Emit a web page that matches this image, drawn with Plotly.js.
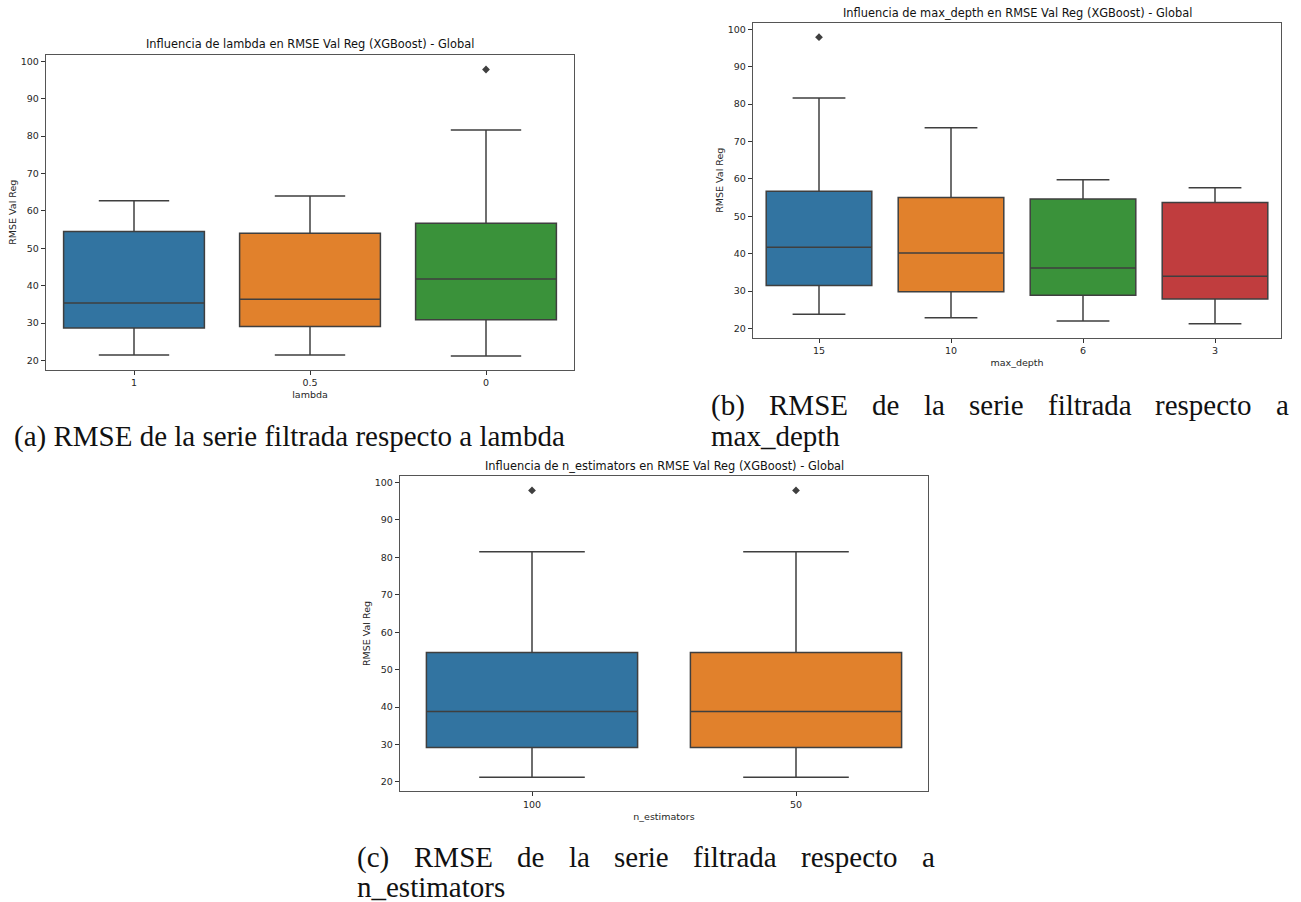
<!DOCTYPE html>
<html>
<head>
<meta charset="utf-8">
<script src="https://cdn.plot.ly/plotly-3.0.1.min.js"></script>
<style>html,body{margin:0;padding:0;background:#fff;}#chart{width:1301px;height:902px;}</style>
</head>
<body>
<div id="chart"></div>
<script>
// ---- data ----
const lambdaCats = ['1', '0.5', '0'];
const lambdaQ1 = [28.7, 29.1, 30.9];
const lambdaMedian = [35.4, 36.4, 41.8];
const lambdaQ3 = [54.5, 54.0, 56.7];
const lambdaLow = [21.5, 21.5, 21.2];
const lambdaHigh = [62.7, 64.0, 81.6];
const lambdaOutCats = ['0'];
const lambdaOutVals = [97.8];

const depthCats = ['15', '10', '6', '3'];
const depthQ1 = [31.5, 29.8, 28.9, 27.9];
const depthMedian = [41.7, 40.2, 36.2, 34.0];
const depthQ3 = [56.7, 55.0, 54.6, 53.7];
const depthLow = [23.8, 22.9, 22.0, 21.3];
const depthHigh = [81.6, 73.7, 59.8, 57.6];
const depthOutCats = ['15'];
const depthOutVals = [97.9];

const nestCats = ['100', '50'];
const nestQ1 = [29.2, 29.2];
const nestMedian = [38.8, 38.8];
const nestQ3 = [54.6, 54.6];
const nestLow = [21.2, 21.2];
const nestHigh = [81.5, 81.5];
const nestOutCats = ['100', '50'];
const nestOutVals = [97.9, 97.9];

const yTickVals = [20, 30, 40, 50, 60, 70, 80, 90, 100];

// ---- styling ----
const palette = ['#3274a1', '#e1812c', '#3a923a', '#c03d3e'];
const edge = '#3f3f3f';
const W = 1301, H = 902;
const sans = 'DejaVu Sans, sans-serif';
const serifName = 'Liberation Serif';
const serif = serifName + ', DejaVu Serif, serif';
const capSize = 29;

function boxes(cats, q1, med, q3, lo, hi, xa, ya) {
  return cats.map((c, i) => ({
    type: 'box', orientation: 'v',
    x: [c], q1: [q1[i]], median: [med[i]], q3: [q3[i]],
    lowerfence: [lo[i]], upperfence: [hi[i]],
    fillcolor: palette[i], line: {color: edge, width: 1.5},
    width: 0.8, whiskerwidth: 0.5, boxpoints: false,
    xaxis: xa, yaxis: ya, showlegend: false, name: c
  }));
}
function outliers(cats, vals, xa, ya) {
  return {
    type: 'scatter', mode: 'markers', x: cats, y: vals,
    marker: {symbol: 'diamond', size: 6, color: edge},
    xaxis: xa, yaxis: ya, showlegend: false
  };
}

const data = [
  ...boxes(lambdaCats, lambdaQ1, lambdaMedian, lambdaQ3, lambdaLow, lambdaHigh, 'x', 'y'),
  outliers(lambdaOutCats, lambdaOutVals, 'x', 'y'),
  ...boxes(depthCats, depthQ1, depthMedian, depthQ3, depthLow, depthHigh, 'x2', 'y2'),
  outliers(depthOutCats, depthOutVals, 'x2', 'y2'),
  ...boxes(nestCats, nestQ1, nestMedian, nestQ3, nestLow, nestHigh, 'x3', 'y3'),
  outliers(nestOutCats, nestOutVals, 'x3', 'y3')
];

function px(x) { return x / W; }
function py(y) { return 1 - y / H; }

function xax(cats, l, r, title, anchor) {
  return {
    domain: [px(l), px(r)], anchor: anchor, type: 'category',
    categoryorder: 'array', categoryarray: cats,
    range: [-0.5, cats.length - 0.5],
    showline: true, mirror: true, linecolor: '#555', linewidth: 1.2,
    ticks: 'outside', ticklen: 4, tickcolor: '#333', tickwidth: 1,
    tickfont: {family: sans, size: 9.5, color: '#262626'},
    showgrid: false, zeroline: false, fixedrange: true,
    title: {text: title, font: {family: sans, size: 9.5, color: '#262626'}, standoff: 4}
  };
}
function yax(t, b, anchor) {
  return {
    domain: [py(b), py(t)], anchor: anchor,
    range: [17.54, 101.76], tickvals: yTickVals,
    showline: true, mirror: true, linecolor: '#555', linewidth: 1.2,
    ticks: 'outside', ticklen: 4, tickcolor: '#333', tickwidth: 1,
    tickfont: {family: sans, size: 9.5, color: '#262626'},
    showgrid: false, zeroline: false, fixedrange: true,
    title: {text: 'RMSE Val Reg', font: {family: sans, size: 9.5, color: '#262626'}, standoff: 2}
  };
}

function ann(text, x, y, size, family, xanchor) {
  return {text: text, x: px(x), y: py(y), xref: 'paper', yref: 'paper',
    showarrow: false, xanchor: xanchor || 'center', yanchor: 'middle',
    font: {family: family, size: size, color: '#111'}};
}

// justified caption line: words spread evenly between x0 and x1
const measureCtx = document.createElement('canvas').getContext('2d');
measureCtx.font = capSize + 'px "' + serifName + '"';
function justified(words, x0, x1, y) {
  const widths = words.map(w => measureCtx.measureText(w).width);
  const total = widths.reduce((a, b) => a + b, 0);
  const gap = (x1 - x0 - total) / (words.length - 1);
  let x = x0;
  return words.map((w, i) => {
    const a = ann(w, x, y, capSize, serif, 'left');
    x += widths[i] + gap;
    return a;
  });
}

const captionWords = ['RMSE', 'de', 'la', 'serie', 'filtrada', 'respecto', 'a'];

const annotations = [
  ann('Influencia de lambda en RMSE Val Reg (XGBoost) - Global', 310, 44, 11.4, sans),
  ann('Influencia de max_depth en RMSE Val Reg (XGBoost) - Global', 1017, 13, 11.4, sans),
  ann('Influencia de n_estimators en RMSE Val Reg (XGBoost) - Global', 664, 466, 11.4, sans),
  ann('(a) RMSE de la serie filtrada respecto a lambda', 12, 436, capSize, serif, 'left'),
  ...justified(['(b)'].concat(captionWords), 709, 1287, 405),
  ann('max_depth', 709, 436, capSize, serif, 'left'),
  ...justified(['(c)'].concat(captionWords), 355, 933, 857),
  ann('n_estimators', 355, 887, capSize, serif, 'left')
];

const layout = {
  width: W, height: H,
  margin: {l: 0, r: 0, t: 0, b: 0},
  paper_bgcolor: '#fff', plot_bgcolor: '#fff',
  boxmode: 'overlay', showlegend: false,
  xaxis: xax(lambdaCats, 46, 574, 'lambda', 'y'),
  yaxis: yax(54.7, 369.7, 'x'),
  xaxis2: xax(depthCats, 753, 1281, 'max_depth', 'y2'),
  yaxis2: yax(22.7, 337.7, 'x2'),
  xaxis3: xax(nestCats, 400, 928, 'n_estimators', 'y3'),
  yaxis3: yax(476, 791, 'x3'),
  annotations: annotations
};

Plotly.newPlot('chart', data, layout, {displayModeBar: false, staticPlot: true});
</script>
</body>
</html>
